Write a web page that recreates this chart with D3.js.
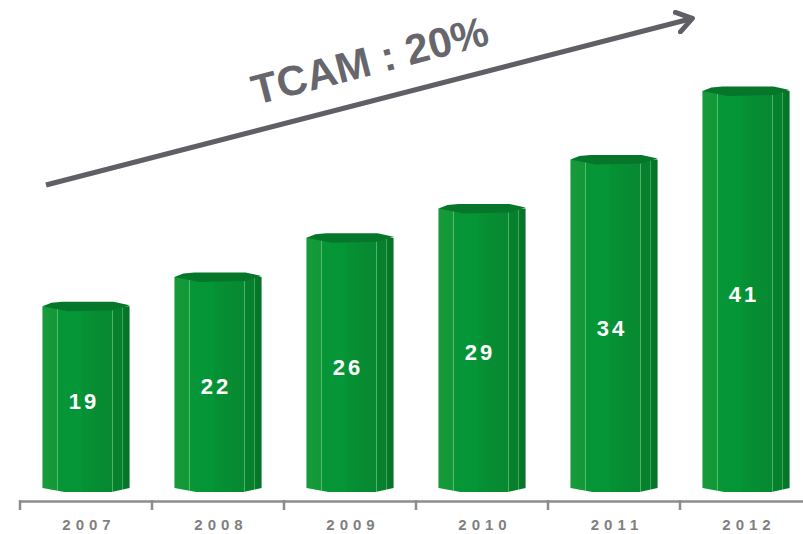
<!DOCTYPE html>
<html>
<head>
<meta charset="utf-8">
<script src="https://d3js.org/d3.v7.min.js"></script>
<style>
body { margin: 0; background: #fff; }
text { font-family: Arial, "Liberation Sans", sans-serif; }
</style>
</head>
<body>
<svg width="803" height="534"></svg>
<script>
// chart data
var years = ["2007", "2008", "2009", "2010", "2011", "2012"];
var values = [19, 22, 26, 29, 34, 41];
var growthLabel = "TCAM : 20%";

var svg = d3.select("svg");

var x = d3.scaleBand().domain(years).range([20, 812]).paddingInner(0.34).paddingOuter(0.17);
var y = d3.scaleLinear().domain([0, 45]).range([487, 47]);
var base = 492;

// facet gradient for the cylinders
var defs = svg.append("defs");
var grad = defs.append("linearGradient").attr("id", "body").attr("x1", 0).attr("x2", 1).attr("y1", 0).attr("y2", 0);
[[0, "#179a3a"], [0.165, "#129838"], [0.165, "#55bc6e"], [0.18, "#55bc6e"], [0.18, "#079537"],
 [0.45, "#039636"], [0.45, "#069134"], [0.8, "#078831"], [0.8, "#4ab566"], [0.815, "#4ab566"],
 [0.815, "#07802e"], [0.915, "#07802e"], [0.915, "#3aa656"], [0.93, "#3aa656"],
 [0.93, "#06782a"], [1, "#057126"]].forEach(function(s) {
  grad.append("stop").attr("offset", s[0]).attr("stop-color", s[1]);
});

// axis
var axis = svg.append("g").attr("transform", "translate(0,501)")
  .call(d3.axisBottom(x).tickSize(0).tickPadding(18));
axis.select(".domain").attr("stroke", "#8c8c8c").attr("stroke-width", 2.5);
axis.selectAll("text")
  .attr("fill", "#7f7f7f").style("font-size", "15px").style("font-weight", "bold")
  .style("letter-spacing", "5px").attr("dx", "3px");
// separators between categories
var seps = [x.range()[0]].concat(years.slice(1).map(function(d) { return x(d) - x.step() * x.paddingInner() / 2; }));
svg.append("g").selectAll("line").data(seps).enter().append("line")
  .attr("x1", function(d) { return d; }).attr("x2", function(d) { return d; })
  .attr("y1", 500).attr("y2", 510)
  .attr("stroke", "#8c8c8c").attr("stroke-width", 2.5);

// cylinders
var bars = svg.append("g").selectAll("g").data(years).enter().append("g");
bars.each(function(d, i) {
  var g = d3.select(this);
  var x0 = x(d), x1 = x(d) + x.bandwidth();
  var cy = y(values[i]) + 5;
  g.append("path")
    .attr("d", "M" + x0 + "," + cy + " L" + x0 + "," + (base - 4) +
      " L" + (x0 + 22) + "," + base + " L" + (x1 - 18) + "," + base +
      " L" + x1 + "," + (base - 4) + " L" + x1 + "," + cy + " Z")
    .attr("fill", "url(#body)");
  g.append("path")
    .attr("d", "M" + x0 + "," + cy + " L" + (x0 + 9) + "," + (cy - 3.5) +
      " L" + (x0 + 20) + "," + (cy - 4.5) + " L" + (x1 - 16) + "," + (cy - 4.5) +
      " L" + x1 + "," + (cy - 1) + " L" + (x1 - 16) + "," + (cy + 4) +
      " L" + (x0 + 25) + "," + (cy + 5) + " Z")
    .attr("fill", "#06772a");
  g.append("text")
    .attr("x", x0 + x.bandwidth() / 2 - 2)
    .attr("y", (cy + base) / 2 + 10)
    .attr("text-anchor", "middle")
    .attr("fill", "#fff").style("font-size", "22px").style("font-weight", "bold")
    .style("letter-spacing", "3px")
    .text(values[i]);
});

// growth arrow
defs.append("marker").attr("id", "head").attr("viewBox", "0 0 10 10")
  .attr("refX", 6).attr("refY", 5).attr("markerWidth", 5).attr("markerHeight", 5)
  .attr("orient", "auto").attr("markerUnits", "strokeWidth")
  .append("path").attr("d", "M1,1 L7,5 L1,9").attr("fill", "none")
  .attr("stroke", "#5f5f65").attr("stroke-width", 2).attr("stroke-linecap", "round").attr("stroke-linejoin", "round");
svg.append("line").attr("x1", 46).attr("y1", 185).attr("x2", 690).attr("y2", 19)
  .attr("stroke", "#5f5f65").attr("stroke-width", 5).attr("marker-end", "url(#head)");

svg.append("text")
  .attr("transform", "translate(256,105) rotate(-14.5)")
  .attr("fill", "#66666c").style("font-size", "42px").style("font-weight", "bold")
  .text(growthLabel);
</script>
</body>
</html>
